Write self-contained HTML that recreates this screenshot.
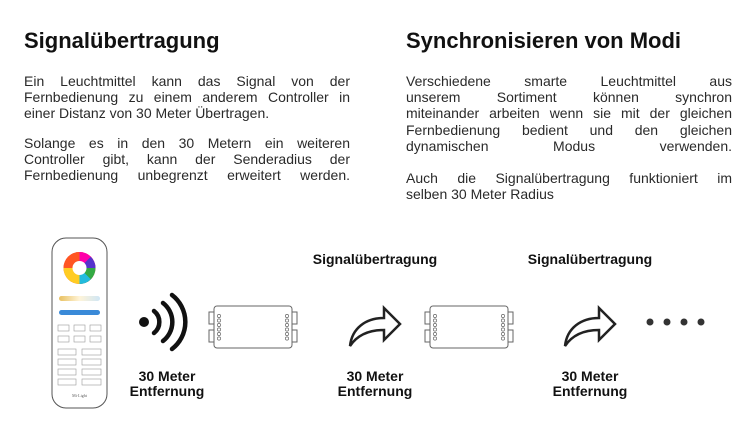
<!DOCTYPE html>
<html><head><meta charset="utf-8"><style>
body{margin:0;width:750px;height:444px;background:#fff;font-family:"Liberation Sans",sans-serif;color:#222;position:relative;overflow:hidden}
.h{position:absolute;font-weight:bold;font-size:22px;top:28px;color:#111}
.p{position:absolute;font-size:14px;line-height:16.2px;color:#2a2a2a;width:326px}
.p div{text-align:justify;text-align-last:justify;white-space:nowrap}
.p div.l{text-align-last:left}
.lb{position:absolute;font-weight:bold;font-size:14px;text-align:center;line-height:15px;color:#111;width:140px}
</style></head><body>
<div class="h" style="left:24px">Signalübertragung</div>
<div class="h" style="left:406px">Synchronisieren von Modi</div>
<div class="p" style="left:24px;top:73px"><div>Ein Leuchtmittel kann das Signal von der</div><div>Fernbedienung zu einem anderem Controller in</div><div class="l">einer Distanz von 30 Meter Übertragen.</div></div>
<div class="p" style="left:24px;top:135px"><div>Solange es in den 30 Metern ein weiteren</div><div>Controller gibt, kann der Senderadius der</div><div>Fernbedienung unbegrenzt erweitert werden.</div></div>
<div class="p" style="left:406px;top:73px"><div>Verschiedene smarte Leuchtmittel aus</div><div>unserem Sortiment können synchron</div><div>miteinander arbeiten wenn sie mit der gleichen</div><div>Fernbedienung bedient und den gleichen</div><div>dynamischen Modus verwenden.</div></div>
<div class="p" style="left:406px;top:170px"><div>Auch die Signalübertragung funktioniert im</div><div class="l">selben 30 Meter Radius</div></div>

<div class="lb" style="left:305px;top:252px">Signalübertragung</div>
<div class="lb" style="left:520px;top:252px">Signalübertragung</div>
<div class="lb" style="left:97px;top:369px">30 Meter<br>Entfernung</div>
<div class="lb" style="left:305px;top:369px">30 Meter<br>Entfernung</div>
<div class="lb" style="left:520px;top:369px">30 Meter<br>Entfernung</div>

<svg width="750" height="444" style="position:absolute;left:0;top:0">
<defs>
<linearGradient id="g1"><stop offset="0" stop-color="#e8c060"/><stop offset=".5" stop-color="#fff4d8"/><stop offset="1" stop-color="#cfe6f5"/></linearGradient>
<g id="ctl" fill="none" stroke="#666" stroke-width="1">
<rect x="6" y="0" width="78" height="42" rx="3"/>
<path d="M6 6 H1 V18 H6 M6 24 H1 V36 H6 M84 6 H89 V18 H84 M84 24 H89 V36 H84"/>
<g stroke-width=".7"><circle cx="11" cy="10" r="1.6"/><circle cx="11" cy="14.5" r="1.6"/><circle cx="11" cy="19" r="1.6"/><circle cx="11" cy="23.5" r="1.6"/><circle cx="11" cy="28" r="1.6"/><circle cx="11" cy="32.5" r="1.6"/>
<circle cx="79" cy="10" r="1.6"/><circle cx="79" cy="14.5" r="1.6"/><circle cx="79" cy="19" r="1.6"/><circle cx="79" cy="23.5" r="1.6"/><circle cx="79" cy="28" r="1.6"/><circle cx="79" cy="32.5" r="1.6"/></g>
</g>
<path id="arr" d="M2 42 C4 24 18 14 36 14 V4 L52 20 L36 36 V26 C22 26 10 30 2 42 Z" fill="none" stroke="#222" stroke-width="2.5" stroke-linejoin="miter"/>
</defs>
<rect x="52" y="238" width="55" height="170" rx="14" fill="#fff" stroke="#555" stroke-width="1"/>
<g>
<circle cx="79.5" cy="268" r="16" fill="#e33"/>
<path d="M79.5 268 L79.5 252 A16 16 0 0 1 95.5 268Z" fill="#f0a"/>
<path d="M79.5 268 L95.5 268 A16 16 0 0 1 79.5 284Z" fill="#3a4"/>
<path d="M79.5 268 L79.5 284 A16 16 0 0 1 63.5 268Z" fill="#fc2"/>
<path d="M79.5 268 L63.5 268 A16 16 0 0 1 79.5 252Z" fill="#f52"/>
<path d="M79.5 268 L90.8 256.7 A16 16 0 0 1 95.5 268Z" fill="#53c"/>
<path d="M79.5 268 L90.8 279.3 A16 16 0 0 1 79.5 284Z" fill="#2bd"/>
<circle cx="79.5" cy="268" r="7" fill="#fff"/>
</g>
<rect x="59" y="296" width="41" height="5" rx="2.5" fill="url(#g1)"/>
<rect x="59" y="310" width="41" height="5" rx="2.5" fill="#3a8ad8"/>
<g fill="none" stroke="#999" stroke-width=".6">
<rect x="58" y="325" width="11" height="6"/><rect x="74" y="325" width="11" height="6"/><rect x="90" y="325" width="11" height="6"/>
<rect x="58" y="336" width="11" height="6"/><rect x="74" y="336" width="11" height="6"/><rect x="90" y="336" width="11" height="6"/>
<rect x="58" y="349" width="18" height="6"/><rect x="82" y="349" width="19" height="6"/>
<rect x="58" y="359" width="18" height="6"/><rect x="82" y="359" width="19" height="6"/>
<rect x="58" y="369" width="18" height="6"/><rect x="82" y="369" width="19" height="6"/>
<rect x="58" y="379" width="18" height="6"/><rect x="82" y="379" width="19" height="6"/>
</g>
<text x="79.5" y="397" font-size="4" text-anchor="middle" fill="#555" font-family="Liberation Serif,serif">Mi·Light</text>
<circle cx="144" cy="322" r="5" fill="#111"/>
<g fill="none" stroke="#111" stroke-width="4.5" stroke-linecap="round">
<path d="M154 311 A14 14 0 0 1 154 333"/>
<path d="M163 303 A24 24 0 0 1 163 341"/>
<path d="M172 295 A34 34 0 0 1 172 349"/>
</g>
<use href="#ctl" x="208" y="306"/>
<use href="#ctl" x="424" y="306"/>
<use href="#arr" x="348" y="304"/>
<use href="#arr" x="563" y="304"/>
<g fill="#333"><circle cx="650" cy="322" r="3.5"/><circle cx="667" cy="322" r="3.5"/><circle cx="684" cy="322" r="3.5"/><circle cx="701" cy="322" r="3.5"/></g>
</svg>
</body></html>
